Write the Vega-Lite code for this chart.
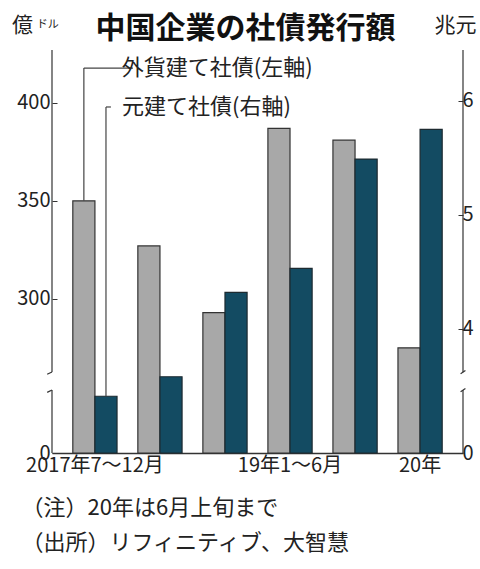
{
  "$schema": "https://vega.github.io/schema/vega-lite/v6.json",
  "width": 411,
  "height": 403,
  "autosize": {"type": "none"},
  "padding": {"left": 52, "top": 50, "right": 17, "bottom": 116},
  "background": "white",
  "config": {
    "font": "Noto Sans CJK JP",
    "view": {"stroke": null},
    "axis": {"grid": false, "labelColor": "#222", "titleColor": "#222", "domainColor": "#333", "tickColor": "#333", "labelFont": "Noto Sans CJK JP", "titleFont": "Noto Sans CJK JP"}
  },
  "title": {
    "text": "中国企業の社債発行額",
    "frame": "group",
    "anchor": "middle",
    "fontSize": 30,
    "fontWeight": "bold",
    "color": "#111",
    "dx": -12,
    "offset": 0,
    "dy": 30
  },
  "data": {
    "values": [
      {"period": "2017年7〜12月", "series": "外貨建て社債", "value": 350},
      {"period": "18年1〜6月", "series": "外貨建て社債", "value": 327},
      {"period": "18年7〜12月", "series": "外貨建て社債", "value": 293},
      {"period": "19年1〜6月", "series": "外貨建て社債", "value": 387},
      {"period": "19年7〜12月", "series": "外貨建て社債", "value": 381},
      {"period": "20年", "series": "外貨建て社債", "value": 275},
      {"period": "2017年7〜12月", "series": "元建て社債", "value": 3.0},
      {"period": "18年1〜6月", "series": "元建て社債", "value": 3.58},
      {"period": "18年7〜12月", "series": "元建て社債", "value": 4.32},
      {"period": "19年1〜6月", "series": "元建て社債", "value": 4.53},
      {"period": "19年7〜12月", "series": "元建て社債", "value": 5.49},
      {"period": "20年", "series": "元建て社債", "value": 5.75}
    ]
  },
  "layer": [
    {
      "layer": [
        {
          "transform": [{"filter": "datum.series === '外貨建て社債'"}],
          "mark": {"type": "bar", "fill": "#a8a8a8", "stroke": "#333", "strokeWidth": 1.2},
          "encoding": {
            "x": {
              "field": "period", "type": "nominal", "sort": null,
              "scale": {"paddingInner": 0.32, "paddingOuter": 0.32},
              "axis": {
                "values": ["2017年7〜12月", "19年1〜6月", "20年"],
                "labelAngle": 0, "labelFontSize": 20, "labelPadding": 2, "labelBaseline": "top",
                "ticks": false, "domainWidth": 1.5, "domainColor": "#333",
                "title": ["（注）20年は6月上旬まで", "（出所）リフィニティブ、大智慧"],
                "titleFontSize": 22, "titleFontWeight": "normal", "titleAnchor": "start", "titleAlign": "left",
                "titleBaseline": "top", "titleX": -31, "titleY": 44, "titleLineHeight": 35
              }
            },
            "xOffset": {"field": "series", "type": "nominal", "scale": {"domain": ["外貨建て社債", "元建て社債"], "paddingInner": 0, "paddingOuter": 0}},
            "y": {
              "field": "value", "type": "quantitative",
              "scale": {"domain": [0, 255, 427], "range": [403, 337, 0], "nice": false, "zero": false},
              "axis": {
                "values": [0, 300, 350, 400], "format": "d", "domain": false, "tickSize": -5, "labelFontSize": 20, "labelPadding": 7,
                "title": "億", "titleAngle": 0, "titleFontSize": 21, "titleFontWeight": "normal",
                "titleAlign": "center", "titleBaseline": "middle", "titleX": -30, "titleY": -25
              }
            }
          }
        },
        {
          "transform": [{"filter": "datum.series === '外貨建て社債' && datum.period === '2017年7〜12月'"}],
          "mark": {"type": "rule", "color": "#444", "strokeWidth": 1.2},
          "encoding": {
            "x": {"field": "period", "type": "nominal", "sort": null},
            "xOffset": {"field": "series", "type": "nominal"},
            "y": {"field": "value", "type": "quantitative"},
            "y2": {"datum": 417.8}
          }
        },
        {
          "data": {"values": [{}]},
          "mark": {"type": "rule", "color": "#444", "strokeWidth": 1.2, "x2Offset": 38},
          "encoding": {
            "x": {"datum": "2017年7〜12月", "type": "nominal"},
            "xOffset": {"datum": "外貨建て社債", "type": "nominal"},
            "x2": {"datum": "2017年7〜12月"},
            "y": {"datum": 417.8, "type": "quantitative"}
          }
        },
        {
          "data": {"values": [{}]},
          "mark": {"type": "text", "text": "外貨建て社債(左軸)", "fontSize": 22, "align": "left", "baseline": "middle", "dx": 38, "color": "#222"},
          "encoding": {
            "x": {"datum": "2017年7〜12月", "type": "nominal"},
            "xOffset": {"datum": "外貨建て社債", "type": "nominal"},
            "y": {"datum": 417.8, "type": "quantitative"}
          }
        },
        {
          "data": {"values": [{}]},
          "mark": {"type": "text", "text": "ドル", "fontSize": 11, "align": "left", "baseline": "middle", "dx": -47, "color": "#222"},
          "encoding": {
            "x": {"datum": "2017年7〜12月", "type": "nominal"},
            "xOffset": {"datum": "外貨建て社債", "type": "nominal"},
            "y": {"datum": 440, "type": "quantitative"}
          }
        },
        {
          "data": {"values": [{}]},
          "mark": {"type": "rule", "color": "#333", "strokeWidth": 1.2},
          "encoding": {"x": {"value": 0}, "y": {"datum": 0, "type": "quantitative"}, "y2": {"datum": 243.4}}
        },
        {
          "data": {"values": [{}]},
          "mark": {"type": "rule", "color": "#333", "strokeWidth": 1.2},
          "encoding": {"x": {"value": 0}, "y": {"datum": 262.7, "type": "quantitative"}, "y2": {"datum": 427}}
        },
        {
          "data": {"values": [{}]},
          "mark": {"type": "point", "shape": "M -1.2 0.6 L 0 0", "size": 64, "stroke": "#333", "strokeWidth": 1.2, "filled": false, "opacity": 1},
          "encoding": {"x": {"value": 0}, "y": {"datum": 243.4, "type": "quantitative"}}
        },
        {
          "data": {"values": [{}]},
          "mark": {"type": "point", "shape": "M -1.2 0.6 L 0 0", "size": 64, "stroke": "#333", "strokeWidth": 1.2, "filled": false, "opacity": 1},
          "encoding": {"x": {"value": 0}, "y": {"datum": 262.7, "type": "quantitative"}}
        }
      ]
    },
    {
      "layer": [
        {
          "transform": [{"filter": "datum.series === '元建て社債'"}],
          "mark": {"type": "bar", "fill": "#134b62", "stroke": "#1d2a30", "strokeWidth": 1.2},
          "encoding": {
            "x": {"field": "period", "type": "nominal", "sort": null},
            "xOffset": {"field": "series", "type": "nominal"},
            "y": {
              "field": "value", "type": "quantitative",
              "scale": {"domain": [0, 3.49, 6.447], "range": [403, 337, 0], "nice": false, "zero": false},
              "axis": {
                "orient": "right", "values": [0, 4, 5, 6], "format": "d", "domain": false, "tickSize": -5, "labelFontSize": 20, "labelPadding": 4,
                "title": "兆元", "titleAngle": 0, "titleFontSize": 21, "titleFontWeight": "normal",
                "titleAlign": "center", "titleBaseline": "middle", "titleX": -8, "titleY": -25
              }
            }
          }
        },
        {
          "transform": [{"filter": "datum.series === '元建て社債' && datum.period === '2017年7〜12月'"}],
          "mark": {"type": "rule", "color": "#444", "strokeWidth": 1.2},
          "encoding": {
            "x": {"field": "period", "type": "nominal", "sort": null},
            "xOffset": {"field": "series", "type": "nominal"},
            "y": {"field": "value", "type": "quantitative"},
            "y2": {"datum": 5.947}
          }
        },
        {
          "data": {"values": [{}]},
          "mark": {"type": "rule", "color": "#444", "strokeWidth": 1.2, "x2Offset": 16},
          "encoding": {
            "x": {"datum": "2017年7〜12月", "type": "nominal"},
            "xOffset": {"datum": "元建て社債", "type": "nominal"},
            "x2": {"datum": "2017年7〜12月"},
            "y": {"datum": 5.947, "type": "quantitative"}
          }
        },
        {
          "data": {"values": [{}]},
          "mark": {"type": "text", "text": "元建て社債(右軸)", "fontSize": 22, "align": "left", "baseline": "middle", "dx": 16, "color": "#222"},
          "encoding": {
            "x": {"datum": "2017年7〜12月", "type": "nominal"},
            "xOffset": {"datum": "元建て社債", "type": "nominal"},
            "y": {"datum": 5.947, "type": "quantitative"}
          }
        },
        {
          "data": {"values": [{}]},
          "mark": {"type": "rule", "color": "#333", "strokeWidth": 1.2},
          "encoding": {"x": {"value": "width"}, "y": {"datum": 0, "type": "quantitative"}, "y2": {"datum": 3.33}}
        },
        {
          "data": {"values": [{}]},
          "mark": {"type": "rule", "color": "#333", "strokeWidth": 1.2},
          "encoding": {"x": {"value": "width"}, "y": {"datum": 3.62, "type": "quantitative"}, "y2": {"datum": 6.447}}
        },
        {
          "data": {"values": [{}]},
          "mark": {"type": "point", "shape": "M -0.6 0.4 L 0.6 -0.4", "size": 64, "stroke": "#333", "strokeWidth": 1.2, "filled": false, "opacity": 1},
          "encoding": {"x": {"value": "width"}, "y": {"datum": 3.33, "type": "quantitative"}}
        },
        {
          "data": {"values": [{}]},
          "mark": {"type": "point", "shape": "M -0.6 0.4 L 0.6 -0.4", "size": 64, "stroke": "#333", "strokeWidth": 1.2, "filled": false, "opacity": 1},
          "encoding": {"x": {"value": "width"}, "y": {"datum": 3.62, "type": "quantitative"}}
        }
      ]
    }
  ],
  "resolve": {"scale": {"y": "independent"}}
}
